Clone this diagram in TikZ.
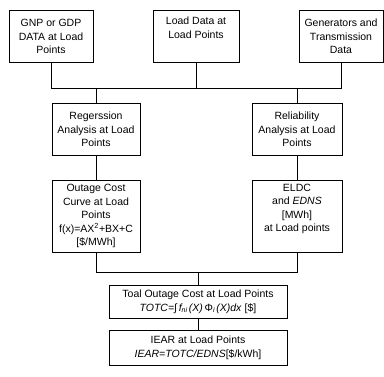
\documentclass[tikz,border=0pt]{standalone}
\usepackage{fontspec}
\setmainfont{Liberation Sans}
\begin{document}
\begin{tikzpicture}[x=1pt,y=-1pt,
  box/.style={draw, line width=0.8pt, align=center, inner sep=1pt,
    font=\fontsize{10.5}{13.5}\selectfont, anchor=center},
  wire/.style={line width=0.8pt}]
\useasboundingbox (0,0) rectangle (384,376);
% top row
\node[box, minimum width=84, minimum height=52, anchor=north] (g1) at (51,10) {GNP or GDP\\DATA at Load\\Points};
\node[box, minimum width=86, minimum height=52, anchor=north] (g2) at (196,10) {Load Data at\\Load Points\\\strut};
\node[box, minimum width=84, minimum height=52, anchor=north] (g3) at (341,10) {Generators and\\Transmission\\Data};
% second row
\node[box, minimum width=88, minimum height=52, anchor=north] (r1) at (96,103) {Regerssion\\Analysis at Load\\Points};
\node[box, minimum width=90, minimum height=52, anchor=north] (r2) at (297,103) {Reliability\\Analysis at Load\\Points};
% third row
\node[box, minimum width=88, minimum height=72, anchor=north] (o1) at (96,180) {Outage Cost\\Curve at Load\\Points\\f(x)=AX\textsuperscript{2}+BX+C\\{}[\$/MWh]};
\node[box, minimum width=90, minimum height=72, anchor=north] (o2) at (297,180) {ELDC\\and \textit{EDNS}\\{}[MWh]\\at Load points\\\strut};
% bottom
\node[box, minimum width=178, minimum height=33, anchor=north] (t) at (198,285) {Toal Outage Cost at Load Points\\\textit{TOTC=}∫\,\textit{f\raisebox{-1.5pt}{\scriptsize ni}\,(X)\,}Φ\textit{\raisebox{-1.5pt}{\scriptsize i}\,(X)dx} [\$]};
\node[box, minimum width=178, minimum height=35, anchor=north] (i) at (198,330) {IEAR at Load Points\\\textit{IEAR=TOTC/EDNS}[\$/kWh]};
% connectors
\coordinate (b1) at (51,88);
\coordinate (b2) at (196,88);
\coordinate (b3) at (341,88);
\coordinate (d1) at (96,88);
\coordinate (d2) at (297,88);
\draw[wire] (g1.south) -- (b1) -- (b3) -- (g3.south);
\draw[wire] (g2.south) -- (b2);
\draw[wire] (d1) -- (r1.north);
\draw[wire] (d2) -- (r2.north);
\draw[wire] (r1) -- (o1);
\draw[wire] (r2) -- (o2);
\coordinate (c1) at (96,272);
\coordinate (c2) at (297,272);
\coordinate (c3) at (198,272);
\draw[wire] (o1.south) -- (c1) -- (c2) -- (o2.south);
\draw[wire] (c3) -- (t.north);
\draw[wire] (t) -- (i);
\end{tikzpicture}
\end{document}
